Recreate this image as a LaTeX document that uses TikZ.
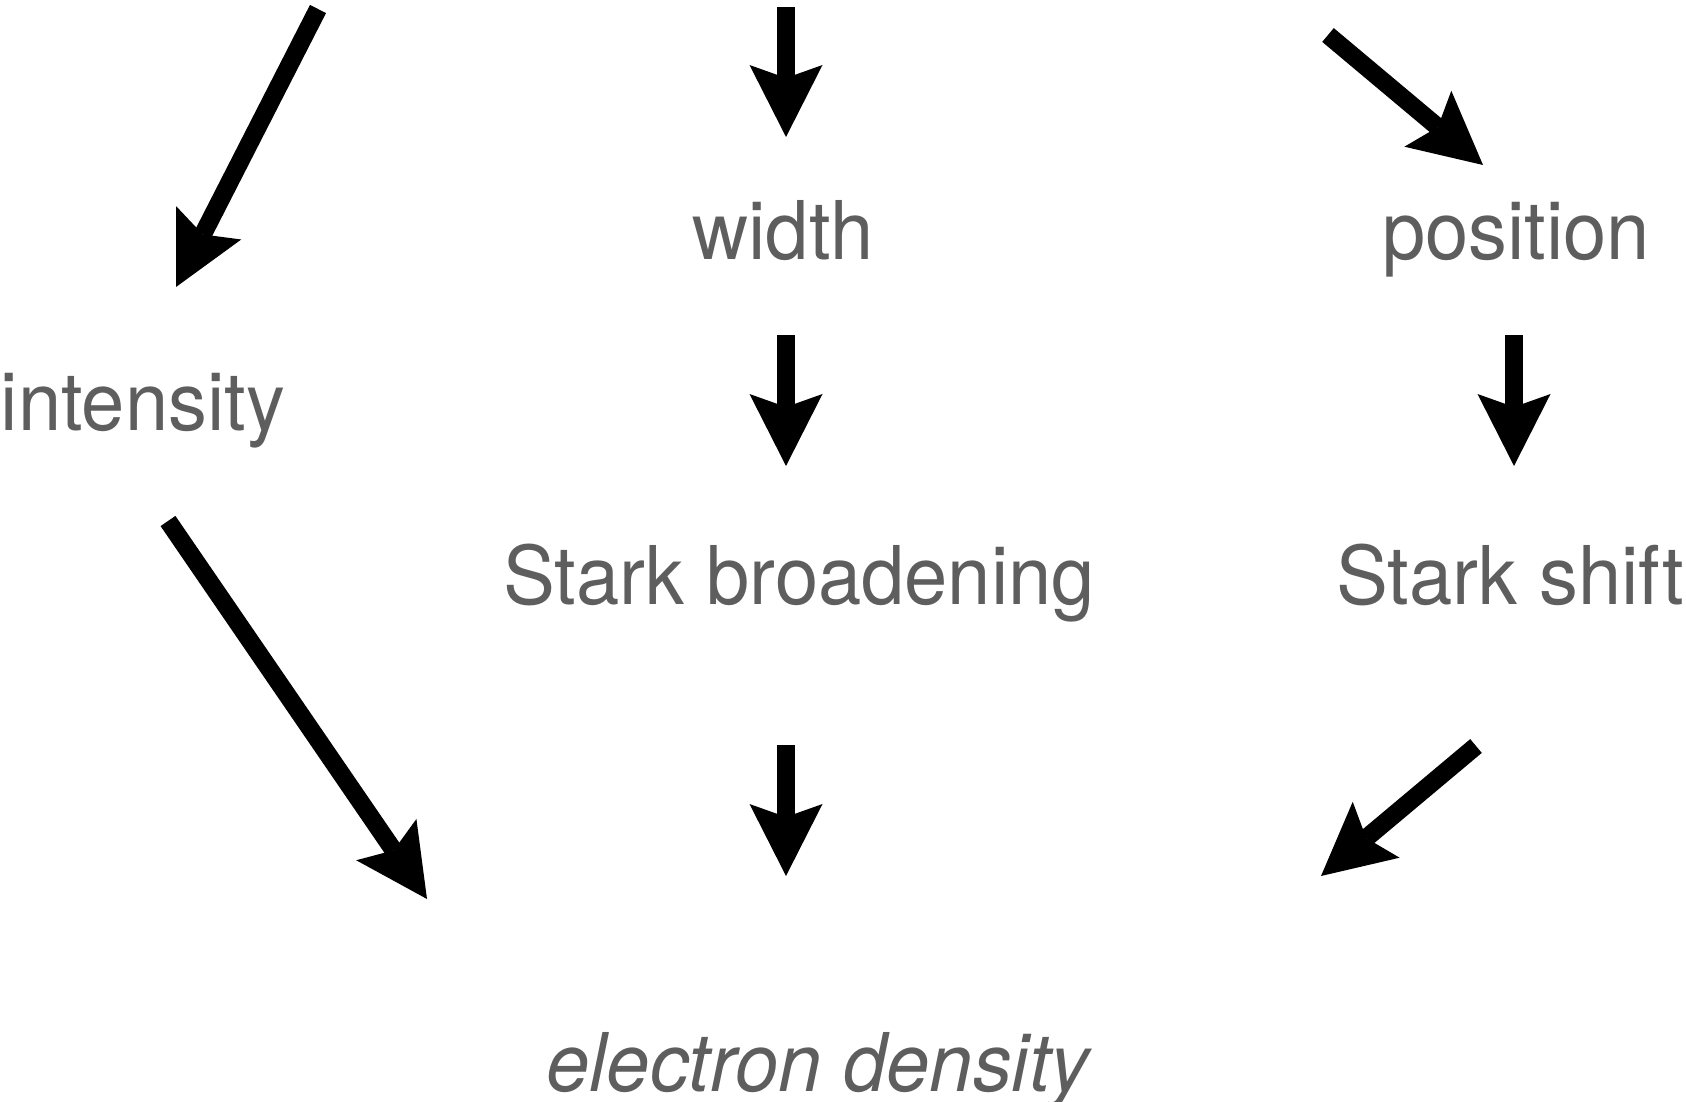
\documentclass[tikz,border=0pt]{standalone}
\usepackage{graphicx}
\usepackage{fontspec}
\setmainfont{TeX Gyre Heros}
\usetikzlibrary{arrows.meta}
\definecolor{termgray}{RGB}{94,94,94}
% set a word a little narrower than the font draws it
\newcommand{\narrow}[1]{\scalebox{0.96}[1]{#1}}
\begin{document}
\begin{tikzpicture}[x=1pt,y=-1pt,
  term/.style={text=termgray, font=\fontsize{81}{90}\selectfont, inner sep=0pt, anchor=base},
  flow/.style={line width=18pt,
    -{Stealth[length=72pt,width=73pt,inset=13pt,line width=0pt]}}]
\useasboundingbox (0,0) rectangle (1686,1102);

% quantities
\node[term] (intensity) at (143,430) {\narrow{intensity}};
\node[term] (width)     at (783,259) {\narrow{width}};
\node[term] (position)  at (1516,259) {\narrow{position}};
% broadening mechanisms
\node[term] (broad)     at (799,604) {\narrow{Stark broadening}};
\node[term] (shift)     at (1510,604) {\narrow{Stark shift}};
% derived plasma parameter
\node[term, font=\fontsize{81}{90}\selectfont\itshape] (density) at (818,1091) {\narrow{electron density}};

% arrow end points
\coordinate (inI)  at (318,9);    \coordinate (toI)  at (176,287);
\coordinate (inW)  at (786,7);    \coordinate (toW)  at (786,137);
\coordinate (inP)  at (1328,35);  \coordinate (toP)  at (1483,165);
\coordinate (fromI) at (168,521); \coordinate (intoD1) at (427,899);
\coordinate (fromW) at (786,335); \coordinate (toB)  at (786,466);
\coordinate (fromP) at (1514,335);\coordinate (toS)  at (1514,466);
\coordinate (fromB) at (786,745); \coordinate (intoD2) at (786,876);
\coordinate (fromS) at (1476,746);\coordinate (intoD3) at (1321,876);

\draw[flow] (inI) -- (toI);
\draw[flow] (inW) -- (toW);
\draw[flow] (inP) -- (toP);
\draw[flow] (fromI) -- (intoD1);
\draw[flow] (fromW) -- (toB);
\draw[flow] (fromP) -- (toS);
\draw[flow] (fromB) -- (intoD2);
\draw[flow] (fromS) -- (intoD3);
\end{tikzpicture}
\end{document}
